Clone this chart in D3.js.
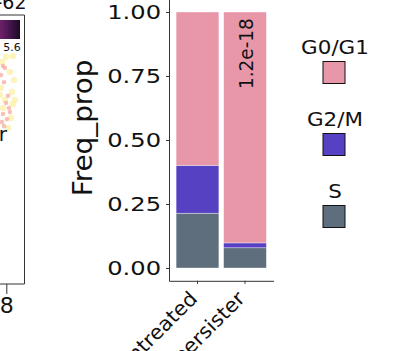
<!DOCTYPE html>
<html><head><meta charset="utf-8">
<script src="https://cdn.jsdelivr.net/npm/d3@7"></script>
<style>
html,body{margin:0;padding:0;background:#fff;}
svg{display:block;}
text{font-family:"DejaVu Sans",Verdana,sans-serif;fill:#111;}
</style></head>
<body>
<script>
// ---- data ----
const categories = ["untreated", "persister"];
const phases = ["G0/G1", "G2/M", "S"];
const valS    = [0.214, 0.079];
const valG2M  = [0.187, 0.019];
const valG0G1 = [0.599, 0.902];
const yTicks = [0, 0.25, 0.5, 0.75, 1];
const pLabel = "1.2e-18";
const phaseColors = ["#E897A9", "#5641C2", "#5E6E7D"];
// partial neighbouring panel
const umapPinkX = [7.5, 7.8, 7.2, 7.65, 8.25, 7.95, 8.4, 7.5, 8.1, 7.35, 7.65, 8.55];
const umapPinkY = [8.1, 8.03, 7.77, 7.5, 7.0, 6.73, 6.54, 6.32, 6.13, 6.02, 5.87, 6.39];
const umapYelX = [7.95, 9.0, 7.35, 8.55, 9.15, 7.2, 8.85, 7.8, 9.0, 8.7, 9.3, 7.5, 8.25, 7.05];
const umapYelY = [8.44, 8.48, 8.25, 7.88, 7.58, 7.29, 7.14, 6.84, 6.69, 6.17, 6.84, 6.54, 5.8, 7.03];
const umapXTicks = [8];
const colorbarMax = "5.6";

const W = 414, H = 351;
const svg = d3.select("body").append("svg").attr("width", W).attr("height", H);

// widen glyphs along the baseline to match the reference's wider lettering
function stretch(sel, f) {
  sel.each(function () {
    const L = this.getComputedTextLength();
    d3.select(this).attr("textLength", L * f).attr("lengthAdjust", "spacingAndGlyphs");
  });
}

// ---- left partial panel ----
const ux = d3.scaleLinear().domain([8, 10]).range([6.3, 19.64]);
const uy = d3.scaleLinear().domain([0, 10]).range([284, 15]);
const left = svg.append("g");
left.append("text").attr("x", 26.5).attr("y", 8.5).attr("text-anchor", "end")
  .style("font-size", "19px").text("-62");
const grad = svg.append("defs").append("linearGradient").attr("id", "cb");
[["0%", "#d65a8a"], ["45%", "#9b2f7e"], ["75%", "#5a1a5e"], ["100%", "#1a0a24"]].forEach(s =>
  grad.append("stop").attr("offset", s[0]).attr("stop-color", s[1]));
left.selectAll("circle.y").data(umapYelX).join("circle").attr("class", "y")
  .attr("cx", (d, i) => ux(d)).attr("cy", (d, i) => uy(umapYelY[i])).attr("r", 3.2)
  .attr("fill", "#fbf0a0").attr("opacity", 0.7);
left.selectAll("circle.p").data(umapPinkX).join("circle").attr("class", "p")
  .attr("cx", (d, i) => ux(d)).attr("cy", (d, i) => uy(umapPinkY[i])).attr("r", 2.3)
  .attr("fill", "#f6a59a").attr("opacity", 0.7);
left.append("rect").attr("x", -40).attr("y", 20).attr("width", 60).attr("height", 19)
  .attr("fill", "url(#cb)");
left.append("text").attr("x", 12).attr("y", 51).attr("text-anchor", "middle")
  .style("font-size", "11px").text(colorbarMax);
left.append("text").attr("x", 7).attr("y", 141).attr("text-anchor", "end")
  .style("font-size", "20px").text("r");
left.append("path").attr("d", `M-5,15H24.5V284H-5`).attr("fill", "none")
  .attr("stroke", "#333").attr("stroke-width", 1);
const uxAxis = left.append("g").attr("transform", "translate(0,284)")
  .call(d3.axisBottom(ux).tickValues(umapXTicks).tickSize(10).tickSizeOuter(0).tickFormat(d3.format("d")));
uxAxis.select(".domain").remove();
uxAxis.selectAll("line").attr("stroke", "#333");
uxAxis.selectAll("text").style("font-size", "22px").attr("y", 13).attr("fill", "#111");

// ---- bar chart ----
const x = d3.scaleBand().domain(categories).range([169, 273.5]).paddingInner(0.1).paddingOuter(0.15);
const y = d3.scaleLinear().domain([-0.05, 1.05]).range([280.8, -0.8]);

const stacked = categories.map((c, i) => {
  const vals = [valG0G1[i], valG2M[i], valS[i]];
  const segs = [];
  let base = 0;
  [2, 1, 0].forEach(k => { segs.push({cat: c, k, y0: base, y1: base + vals[k]}); base += vals[k]; });
  return segs;
}).flat();

svg.append("g").selectAll("rect").data(stacked).join("rect")
  .attr("x", d => x(d.cat)).attr("width", x.bandwidth())
  .attr("y", d => y(d.y1)).attr("height", d => y(d.y0) - y(d.y1))
  .attr("fill", d => phaseColors[d.k])
  .attr("stroke", "#ffffff").attr("stroke-opacity", 0.6).attr("stroke-width", 0.6);

// p-value label
svg.append("text")
  .attr("transform", `translate(${x("persister") + x.bandwidth() / 2 + 7.7},${y(1) + 77}) rotate(-90)`)
  .attr("text-anchor", "start").style("font-size", "19px").text(pLabel)
  .call(stretch, 0.97);

// axes
const yAxis = svg.append("g").attr("transform", "translate(169,0)")
  .call(d3.axisLeft(y).tickValues(yTicks).tickFormat(d3.format(".2f")).tickSize(3).tickPadding(5).tickSizeOuter(0));
yAxis.select(".domain").attr("stroke", "#333");
yAxis.selectAll(".tick line").attr("stroke", "#333");
yAxis.selectAll("text").style("font-size", "19.5px").attr("fill", "#111").call(stretch, 1.24);

const xAxis = svg.append("g").attr("transform", "translate(0,280.8)")
  .call(d3.axisBottom(x).tickSize(3).tickSizeOuter(0));
xAxis.select(".domain").attr("stroke", "#333");
xAxis.selectAll(".tick line").attr("stroke", "#333");
xAxis.selectAll("text").style("font-size", "20px").attr("fill", "#111")
  .attr("text-anchor", "end").attr("dy", null).attr("y", 0)
  .attr("transform", "translate(1,19) rotate(-45)")
  .call(stretch, 1.04);

svg.append("text")
  .attr("transform", `translate(92,128) rotate(-90)`)
  .attr("text-anchor", "middle").style("font-size", "26px").text("Freq_prop")
  .call(stretch, 1.07);

// ---- legend ----
const leg = svg.append("g");
phases.forEach((p, i) => {
  const g = leg.append("g").attr("transform", `translate(0,${i * 72})`);
  g.append("rect").attr("x", 323).attr("y", 61.5).attr("width", 22).attr("height", 22)
    .attr("fill", phaseColors[i]).attr("stroke", "#111").attr("stroke-width", 1);
  g.append("text").attr("x", 335).attr("y", 53.5).attr("text-anchor", "middle")
    .style("font-size", "19.5px").text(p).call(stretch, 1.1);
});
</script>
</body></html>
